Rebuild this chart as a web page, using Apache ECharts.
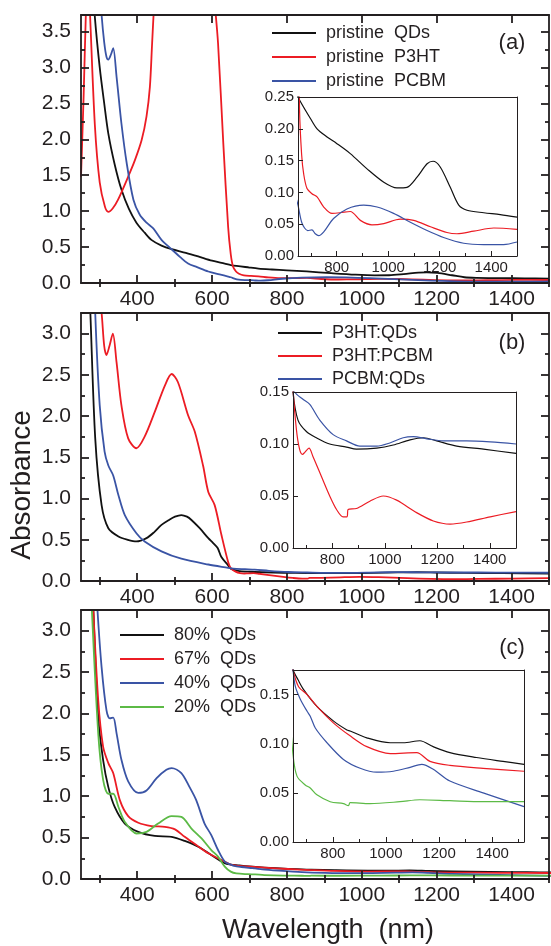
<!DOCTYPE html>
<html><head><meta charset="utf-8">
<script src="https://cdn.jsdelivr.net/npm/echarts@6/dist/echarts.min.js"></script>
<style>html,body{margin:0;padding:0;background:#fff}#c{width:551px;height:946px}</style>
</head><body><div id="c"></div>
<script>
// ---------- DATA (wavelength nm / absorbance) ----------
// panel (a)
const aQdX = [272,287,300,312,323,340,358,378,398,420,438,465,492,530,563,600,634,650,700,724,760,800,853,918,983,1034,1073,1112,1151,1174,1202,1241,1274,1306,1371,1435,1500];
const aQdY = [4.8,3.7,3.0,2.5,2.08,1.65,1.30,1.03,0.84,0.70,0.60,0.52,0.47,0.42,0.37,0.31,0.27,0.25,0.215,0.200,0.188,0.177,0.161,0.137,0.116,0.107,0.108,0.124,0.145,0.149,0.140,0.108,0.080,0.072,0.068,0.065,0.061];
const aP3X = [250,257,263,268,274,287,300,314,323,335,349,376,394,412,425,434,440,446,460,595,607,616,630,643,650,656,664,672,685,704,724,750,782,814,853,892,937,983,1047,1099,1164,1228,1267,1332,1410,1500];
const aP3Y = [1.48,2.6,3.75,4.4,3.75,2.2,1.4,1.06,0.99,1.04,1.16,1.48,1.71,1.99,2.32,2.73,3.34,3.9,4.6,4.6,3.9,3.34,1.95,0.78,0.40,0.23,0.16,0.129,0.106,0.098,0.093,0.077,0.067,0.068,0.070,0.056,0.049,0.051,0.058,0.056,0.046,0.037,0.035,0.039,0.044,0.042];
const aPcX = [295,305,312,318,323,330,336,345,358,372,390,407,425,443,465,492,515,536,560,590,620,643,650,666,688,704,717,730,750,788,840,905,957,1021,1086,1151,1215,1293,1371,1448,1500];
const aPcY = [4.5,3.73,3.35,3.15,3.11,3.18,3.27,2.87,2.22,1.67,1.16,0.95,0.84,0.76,0.60,0.47,0.36,0.27,0.22,0.16,0.12,0.09,0.080,0.051,0.040,0.041,0.035,0.032,0.038,0.059,0.074,0.080,0.077,0.067,0.053,0.040,0.029,0.020,0.018,0.018,0.022];
// panel (b)
const bQdX = [268,275,288,305,323,350,375,398,425,445,465,485,501,518,533,545,567,590,603,615,625,643,650,669,701,739,790,854,892,969,1032,1096,1147,1198,1274,1376,1500];
const bQdY = [4.0,3.25,1.73,0.92,0.64,0.54,0.50,0.48,0.52,0.59,0.68,0.74,0.78,0.80,0.78,0.74,0.64,0.52,0.46,0.40,0.29,0.19,0.15,0.123,0.112,0.106,0.100,0.097,0.095,0.096,0.099,0.104,0.106,0.103,0.098,0.095,0.091];
const bP3X = [295,305,312,318,326,335,345,358,376,398,420,447,474,492,509,536,554,576,590,607,625,643,650,663,675,686,695,711,726,758,790,816,841,856,860,892,943,994,1045,1121,1185,1249,1312,1402,1500];
const bP3Y = [3.6,3.25,2.85,2.74,2.85,3.0,2.65,2.13,1.73,1.61,1.75,2.05,2.37,2.51,2.41,2.01,1.81,1.40,1.08,0.92,0.56,0.23,0.155,0.114,0.095,0.090,0.092,0.096,0.088,0.069,0.050,0.037,0.030,0.030,0.037,0.038,0.045,0.050,0.046,0.034,0.026,0.023,0.025,0.030,0.035];
const bPcX = [280,288,300,313,323,336,350,367,398,420,465,518,590,643,656,688,714,752,803,854,905,969,1019,1070,1109,1160,1223,1312,1402,1500];
const bPcY = [4.5,3.25,2.13,1.57,1.40,1.28,1.04,0.80,0.58,0.48,0.36,0.27,0.20,0.16,0.150,0.143,0.138,0.123,0.109,0.103,0.098,0.098,0.101,0.106,0.107,0.105,0.103,0.103,0.102,0.100];
// panel (c)
const c80X = [275,283,296,309,323,340,367,403,447,492,527,563,598,634,650,669,690,740,803,853,865,928,1016,1066,1128,1178,1241,1341,1441,1520];
const c80Y = [4.2,3.25,1.96,1.44,1.11,0.87,0.67,0.57,0.52,0.51,0.46,0.39,0.29,0.19,0.175,0.165,0.155,0.138,0.123,0.114,0.113,0.106,0.101,0.101,0.103,0.097,0.091,0.086,0.082,0.079];
const c67X = [275,283,296,309,323,336,354,376,403,438,474,501,527,558,590,616,643,650,671,703,740,803,865,928,1016,1116,1166,1241,1366,1520];
const c67Y = [4.2,3.25,2.16,1.60,1.40,1.28,0.95,0.76,0.68,0.64,0.63,0.60,0.51,0.41,0.31,0.25,0.19,0.175,0.158,0.150,0.138,0.121,0.108,0.097,0.090,0.091,0.082,0.078,0.075,0.072];
const c40X = [285,294,305,318,327,336,345,358,376,403,425,452,478,492,518,540,558,580,598,616,634,650,659,678,703,715,734,778,840,903,965,1028,1091,1135,1178,1241,1366,1520];
const c40Y = [4.0,3.25,2.56,2.04,1.94,1.95,1.76,1.44,1.18,1.04,1.07,1.22,1.32,1.34,1.28,1.11,0.95,0.67,0.53,0.35,0.21,0.175,0.158,0.145,0.133,0.128,0.116,0.101,0.084,0.075,0.071,0.072,0.076,0.079,0.074,0.062,0.050,0.036];
const c20X = [272,279,296,309,323,336,350,367,398,425,456,492,518,545,572,598,616,634,650,665,696,715,740,790,840,859,865,940,1053,1128,1241,1366,1520];
const c20Y = [4.0,3.25,1.76,1.20,1.03,1.03,0.87,0.69,0.55,0.57,0.67,0.76,0.75,0.61,0.49,0.35,0.27,0.15,0.089,0.067,0.058,0.055,0.048,0.041,0.039,0.037,0.040,0.039,0.041,0.043,0.042,0.041,0.041];

// ---------- tick labels ----------
const mainXLabels = [400,600,800,1000,1200,1400];
const mainXMinor = [300,500,700,900,1100,1300,1500];
const mainYLabelsA = [0,0.5,1.0,1.5,2.0,2.5,3.0,3.5];
const mainYLabelsBC = [0,0.5,1.0,1.5,2.0,2.5,3.0];
const mainYMinor = [0.25,0.75,1.25,1.75,2.25,2.75,3.25];
const insetXLabels = [800,1000,1200,1400];
const insetXMinor = [700,900,1100,1300,1500];
const insetYLabelsA = [0,0.05,0.10,0.15,0.20,0.25];
const insetYLabelsBC = [0,0.05,0.10,0.15];

const legendA = ['pristine  QDs','pristine  P3HT','pristine  PCBM'];
const legendB = ['P3HT:QDs','P3HT:PCBM','PCBM:QDs'];
const legendC = ['80%  QDs','67%  QDs','40%  QDs','20%  QDs'];

// ---------- styling ----------
const FONT = '"Liberation Sans", Arial, Helvetica, sans-serif';
const TXT = '#231f20';
const BLACK = '#111111', RED = '#ec1c24', BLUE = '#3a54a5', GREEN = '#5cba46';

const grids = [], xAxes = [], yAxes = [], series = [];

function frame(rect, xr, yr, cfg) {
  const g = grids.length;
  const gr = {left: rect[0], top: rect[1], width: rect[2], height: rect[3]};
  grids.push(Object.assign({}, gr), Object.assign({}, gr));
  const line = {show: true, onZero: false, lineStyle: {color: TXT, width: cfg.lw}};
  const ts = {color: TXT, width: cfg.lw};
  const base = (gi, pos, min, max) => ({type: 'value', gridIndex: gi, position: pos, min: min, max: max, splitLine: {show: false}, z: 5});
  const xi = xAxes.length, yi = yAxes.length;
  xAxes.push(Object.assign(base(g, 'bottom', xr[0], xr[1]), {
    axisLine: line,
    axisTick: {show: true, inside: true, length: cfg.major, customValues: cfg.xLab, lineStyle: ts},
    axisLabel: {show: true, customValues: cfg.xLab, formatter: v => String(v), fontSize: cfg.fs, fontFamily: FONT, color: TXT, margin: cfg.xm}
  }));
  xAxes.push(Object.assign(base(g, 'top', xr[0], xr[1]), {
    axisLine: line,
    axisTick: cfg.all ? {show: true, inside: true, length: cfg.major, customValues: cfg.xLab, lineStyle: ts} : {show: false},
    axisLabel: {show: false}
  }));
  yAxes.push(Object.assign(base(g, 'left', yr[0], yr[1]), {
    axisLine: line,
    axisTick: {show: true, inside: true, length: cfg.major, customValues: cfg.yLab, lineStyle: ts},
    axisLabel: {show: true, customValues: cfg.yLab, formatter: v => v.toFixed(cfg.dec), fontSize: cfg.fs, fontFamily: FONT, color: TXT, margin: cfg.ym}
  }));
  yAxes.push(Object.assign(base(g, 'right', yr[0], yr[1]), {
    axisLine: line,
    axisTick: cfg.all ? {show: true, inside: true, length: cfg.major, customValues: cfg.yLab, lineStyle: ts} : {show: false},
    axisLabel: {show: false}
  }));
  const minorTick = (vals, show) => ({show: show && !!vals, inside: true, length: cfg.minor, customValues: vals || [], lineStyle: ts});
  xAxes.push(Object.assign(base(g + 1, 'bottom', xr[0], xr[1]), {axisLine: {show: false}, axisTick: minorTick(cfg.xMin, true), axisLabel: {show: false}}));
  xAxes.push(Object.assign(base(g + 1, 'top', xr[0], xr[1]), {axisLine: {show: false}, axisTick: minorTick(cfg.xMin, cfg.all), axisLabel: {show: false}}));
  yAxes.push(Object.assign(base(g + 1, 'left', yr[0], yr[1]), {axisLine: {show: false}, axisTick: minorTick(cfg.yMin, true), axisLabel: {show: false}}));
  yAxes.push(Object.assign(base(g + 1, 'right', yr[0], yr[1]), {axisLine: {show: false}, axisTick: minorTick(cfg.yMin, cfg.all), axisLabel: {show: false}}));
  return {xi: xi, yi: yi};
}

function addLine(ax, name, xs, ys, color, w) {
  series.push({
    type: 'line', name: name, xAxisIndex: ax.xi, yAxisIndex: ax.yi,
    data: xs.map((x, i) => [x, ys[i]]),
    showSymbol: false, symbol: 'none', smooth: 0.3,
    lineStyle: {color: color, width: w, join: 'round'}, itemStyle: {color: color},
    clip: true, silent: true, animation: false
  });
}

const mainCfg = (yLab) => ({lw: 1.8, major: 8, minor: 4, fs: 21, xm: 6, ym: 10, dec: 1, all: true,
  xLab: mainXLabels, xMin: mainXMinor, yLab: yLab, yMin: mainYMinor});
const insetCfg = (yLab) => ({lw: 1, major: 5, minor: 3, fs: 15, xm: 4, ym: 4, dec: 2, all: false,
  xLab: insetXLabels, xMin: insetXMinor, yLab: yLab, yMin: null});

const A = frame([81, 15, 468, 268], [250, 1500], [0, 3.73], mainCfg(mainYLabelsA));
const Ai = frame([298, 97, 219, 159], [650, 1500], [0, 0.25], insetCfg(insetYLabelsA));
const B = frame([81, 313, 468, 268], [250, 1500], [0, 3.25], mainCfg(mainYLabelsBC));
const Bi = frame([293, 392, 223, 156], [650, 1500], [0, 0.15], insetCfg(insetYLabelsBC));
const C = frame([81, 610, 468, 269], [250, 1500], [0, 3.25], mainCfg(mainYLabelsBC));
const Ci = frame([293, 670, 231, 172], [650, 1520], [0, 0.175], insetCfg(insetYLabelsBC));

[[A, 1.8], [Ai, 1.2]].forEach(([ax, w]) => {
  addLine(ax, legendA[0], aQdX, aQdY, BLACK, w);
  addLine(ax, legendA[1], aP3X, aP3Y, RED, w);
  addLine(ax, legendA[2], aPcX, aPcY, BLUE, w);
});
[[B, 1.8], [Bi, 1.2]].forEach(([ax, w]) => {
  addLine(ax, legendB[0], bQdX, bQdY, BLACK, w);
  addLine(ax, legendB[1], bP3X, bP3Y, RED, w);
  addLine(ax, legendB[2], bPcX, bPcY, BLUE, w);
});
[[C, 1.8], [Ci, 1.2]].forEach(([ax, w]) => {
  addLine(ax, legendC[0], c80X, c80Y, BLACK, w);
  addLine(ax, legendC[1], c67X, c67Y, RED, w);
  addLine(ax, legendC[2], c40X, c40Y, BLUE, w);
  addLine(ax, legendC[3], c20X, c20Y, GREEN, w);
});

const legendCommon = {orient: 'vertical', icon: 'rect', itemWidth: 44, itemHeight: 2, padding: 0, selectedMode: false,
  textStyle: {fontSize: 18, fontFamily: FONT, color: TXT, lineHeight: 18, padding: [0, 0, 0, 5]}};

const label = (text, x, y, size, rot) => ({type: 'text', x: x, y: y, rotation: rot || 0, z: 100,
  style: {text: text, fontSize: size, fontFamily: FONT, fill: TXT, align: 'center', verticalAlign: 'middle', textAlign: 'center', textVerticalAlign: 'middle'}});

const chart = echarts.init(document.getElementById('c'), null, {renderer: 'canvas'});
chart.setOption({
  animation: false,
  backgroundColor: '#ffffff',
  grid: grids, xAxis: xAxes, yAxis: yAxes, series: series,
  legend: [
    Object.assign({}, legendCommon, {data: legendA, left: 272, top: 24, itemGap: 6}),
    Object.assign({}, legendCommon, {data: legendB, left: 278, top: 324, itemGap: 5}),
    Object.assign({}, legendCommon, {data: legendC, left: 120, top: 626, itemGap: 6})
  ],
  graphic: [
    label('(a)', 512, 43, 22),
    label('(b)', 512, 343, 22),
    label('(c)', 512, 648, 22),
    label('Absorbance', 22, 485, 28, Math.PI / 2),
    label('Wavelength  (nm)', 328, 931, 27)
  ]
});
</script></body></html>
